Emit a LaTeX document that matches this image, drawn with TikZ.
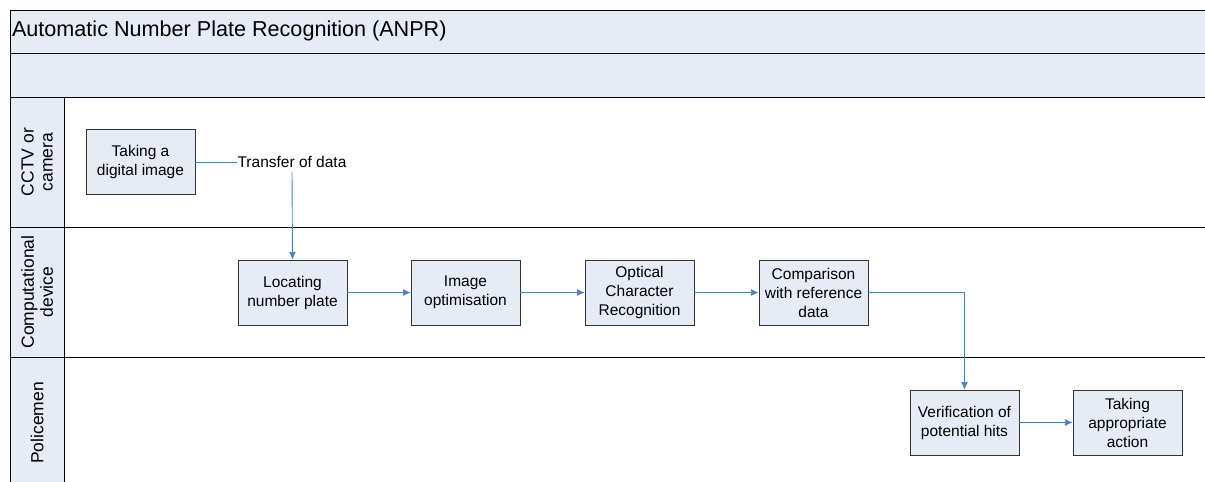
\documentclass[tikz,border=0pt]{standalone}
\usepackage{fontspec}
\setmainfont{Liberation Sans}
\usetikzlibrary{arrows.meta}

\definecolor{lanefill}{HTML}{E6ECF6}
\definecolor{flowblue}{HTML}{4F81BD}

\tikzset{
	stepbox/.style={draw=black!80, fill=lanefill, minimum width=109pt, minimum height=65pt, align=center, font=\fontsize{15.5}{19}\selectfont},
	flow/.style={flowblue, line width=0.9pt},
	lanename/.style={rotate=90, align=center, font=\fontsize{17.5}{19}\selectfont}
}

\begin{document}
\begin{tikzpicture}[x=1pt, y=-1pt, >={Latex[length=8pt,width=7pt]}]
	\useasboundingbox (0,0) rectangle (1205,482);
	% header bands and lane headers
	\fill[lanefill] (10,10) rectangle (1205,97);
	\fill[lanefill] (10,97) rectangle (64,482);
	\draw[line width=0.9pt] (10,10) -- (1205,10);
	\draw[line width=0.9pt] (10,53) -- (1205,53);
	\draw[line width=0.9pt] (10,97) -- (1205,97);
	\draw[line width=0.9pt] (10,227) -- (1205,227);
	\draw[line width=0.9pt] (10,357) -- (1205,357);
	\draw[line width=0.9pt] (10,10) -- (10,482);
	\draw[line width=0.9pt] (64,97) -- (64,482);
	\node[anchor=west, font=\fontsize{21.6}{25}\selectfont] (title) at (8.5,31) {Automatic Number Plate Recognition (ANPR)};
	\node[lanename] (camlane) at (37,162) {CCTV or\\camera};
	\node[lanename] (devlane) at (37,292) {Computational\\device};
	\node[lanename] (pollane) at (37,423) {Policemen};
	% steps
	\node[stepbox] (image) at (140.5,162) {Taking a\\digital image};
	\node[font=\fontsize{15.5}{19}\selectfont, inner sep=0pt] (transfer) at (292,162) {Transfer of data};
	\node[stepbox] (locate) at (292.5,292.5) {Locating\\number plate};
	\node[stepbox] (optim) at (465.5,292.5) {Image\\optimisation};
	\node[stepbox] (ocr) at (639.5,292.5) {Optical\\Character\\Recognition};
	\node[stepbox] (compare) at (813.5,292.5) {Comparison\\with reference\\data};
	\node[stepbox] (verify) at (964.5,422.5) {Verification of\\potential hits};
	\node[stepbox] (action) at (1127.5,422.5) {Taking\\appropriate\\action};
	% connectors
	\draw[flow] (image.east) -- (transfer.west);
	\draw[flow, ->] (transfer.south) ++(0,4) -- (locate.north);
	\draw[flow, ->] (locate) -- (optim);
	\draw[flow, ->] (optim) -- (ocr);
	\draw[flow, ->] (ocr) -- (compare);
	\draw[flow, ->] (compare.east) -| (verify.north);
	\draw[flow, ->] (verify) -- (action);
\end{tikzpicture}
\end{document}
